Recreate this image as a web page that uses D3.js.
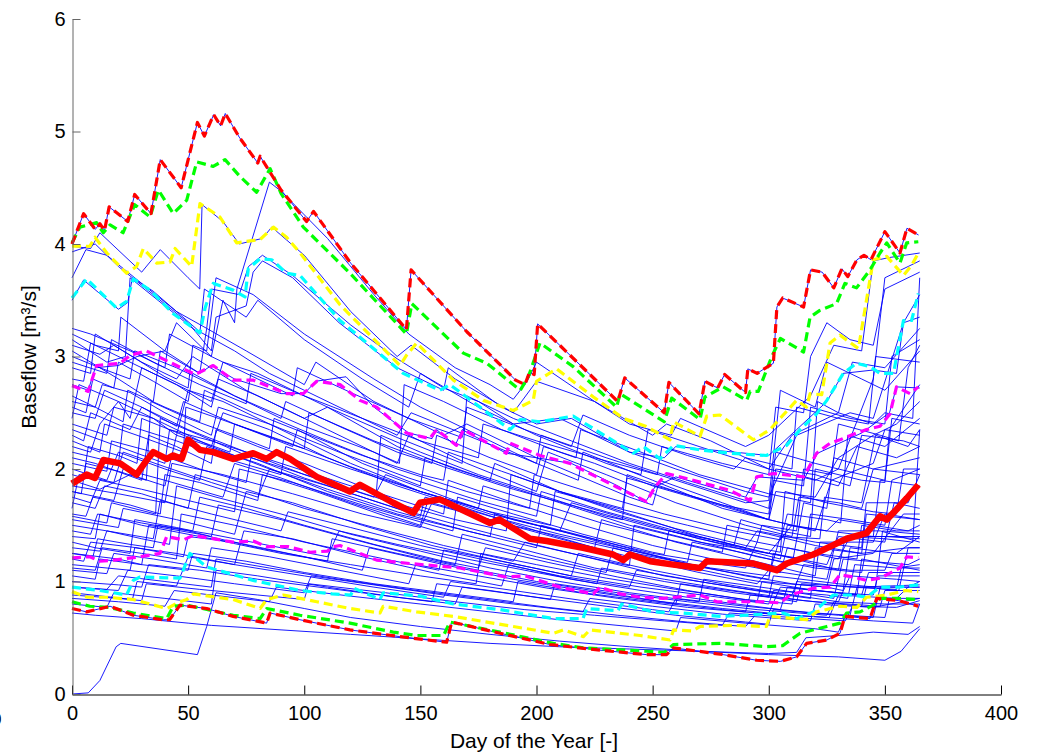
<!DOCTYPE html>
<html>
<head>
<meta charset="utf-8">
<script src="https://cdn.jsdelivr.net/npm/d3@7"></script>
<style>
  body { margin: 0; background: #fff; }
  text { font-family: Arial, "Liberation Sans", sans-serif; }
</style>
</head>
<body>
<svg width="1040" height="755"></svg>
<script>
// axis ticks
var dayTicks = [0, 50, 100, 150, 200, 250, 300, 350, 400];
var flowTicks = [0, 1, 2, 3, 4, 5, 6];

// statistics lines, [day, baseflow]
var maxRun = [[0,4.0],[5,4.27],[10,4.13],[12,4.18],[14,4.12],[16,4.33],[24,4.2],[27,4.44],[34,4.27],[38,4.75],[47,4.5],[54,5.08],[57,4.96],[61,5.15],[64,5.05],[66,5.16],[72,4.95],[80,4.72],[81,4.78],[90,4.48],[101,4.2],[104,4.29],[120,3.83],[144,3.24],[146,3.77],[170,3.22],[191,2.79],[195,2.75],[197,2.86],[199,2.84],[200.5,3.29],[235,2.6],[238,2.81],[255,2.5],[257,2.77],[270,2.49],[272.5,2.78],[278,2.72],[281,2.84],[290,2.68],[291,2.89],[295,2.85],[298,2.89],[302,2.94],[303.5,3.44],[306,3.52],[315,3.44],[318,3.77],[323,3.75],[328,3.61],[331.5,3.78],[334,3.71],[338,3.86],[341,3.9],[344,3.86],[350,4.11],[356.5,3.92],[359.5,4.14],[364.5,4.08]];
var p975Run = [[0,4.01],[3.4,4.15],[10.6,4.19],[13.5,4.1],[16.4,4.17],[22,4.1],[27,4.35],[33.6,4.24],[37.2,4.48],[43.6,4.27],[49.4,4.39],[53.7,4.73],[60.8,4.69],[65.9,4.75],[72.3,4.6],[79.5,4.46],[85.3,4.67],[90,4.45],[99.6,4.15],[119.7,3.74],[144,3.2],[146.3,3.47],[168.5,3.03],[178.6,2.94],[193,2.7],[196.5,2.82],[201.5,3.12],[215.8,2.91],[234.5,2.55],[236,2.67],[255,2.42],[258.2,2.63],[270.4,2.44],[272.5,2.64],[280.4,2.73],[290.5,2.61],[292,2.69],[295.5,2.69],[301.3,3.0],[305,3.16],[315,3.04],[317.8,3.35],[322,3.41],[329.2,3.47],[332.8,3.65],[337.8,3.61],[343.6,3.77],[347.9,3.92],[350.8,4.01],[356.5,3.83],[359.4,4.01],[364.4,4.02]];
var p95Run = [[0,3.98],[7.7,3.98],[9.9,4.06],[15,3.92],[23.5,3.74],[27.8,3.8],[30.7,3.96],[36.5,3.83],[42.2,3.84],[44.4,3.96],[51.5,3.8],[55.1,4.36],[63.7,4.24],[70.9,4.01],[81,4.04],[86.7,4.15],[92.4,4.06],[98.2,3.92],[115.4,3.46],[141.2,2.92],[144,3.01],[148.4,3.12],[164.2,2.79],[177.1,2.61],[190,2.52],[198.6,2.61],[200,2.78],[208.7,2.89],[224.5,2.64],[237.4,2.45],[247,2.38],[257.5,2.26],[259,2.42],[270.4,2.29],[273.3,2.47],[279,2.48],[293.4,2.26],[300.5,2.35],[312,2.61],[316.3,2.55],[317.8,2.67],[322.8,2.66],[326.4,3.12],[330.7,3.19],[338.6,3.07],[345,3.86],[350.8,3.89],[358,3.72],[361.5,3.81],[364.4,3.92]];
var p90Run = [[0,3.52],[6.3,3.69],[19.2,3.43],[23.5,3.49],[26.4,3.69],[33.6,3.59],[43.6,3.38],[55.1,3.21],[57.3,3.43],[60.8,3.65],[69.4,3.59],[74.5,3.53],[75.9,3.78],[81,3.87],[86,3.86],[92.4,3.74],[98.2,3.72],[115.4,3.32],[142.6,2.85],[158.4,2.7],[162.7,2.75],[188.6,2.35],[193,2.44],[201.5,2.42],[215.8,2.47],[241.7,2.14],[246,2.2],[253.2,2.09],[259,2.21],[270.4,2.17],[283.3,2.14],[299,2.12],[307.7,2.21],[313.5,2.35],[320.6,2.49],[325,2.61],[332.1,2.85],[337.8,2.94],[343.6,2.91],[347.9,2.85],[353.7,2.85],[358,3.32],[361.5,3.32],[364.4,3.56]];
var p75Run = [[0,2.74],[7,2.69],[10.6,2.92],[20.7,2.94],[25,3.01],[32,3.05],[40,2.97],[53,2.84],[60.8,2.92],[69.4,2.79],[78,2.79],[92.4,2.67],[99.6,2.67],[105.4,2.78],[115.4,2.75],[124,2.61],[131.2,2.55],[144,2.32],[154,2.27],[157,2.35],[165.6,2.21],[168.5,2.35],[187,2.14],[188.6,2.23],[201.5,2.12],[214.4,2.05],[234.5,1.84],[247.4,1.71],[251,1.84],[256,1.96],[267.5,1.9],[283.3,1.81],[292,1.72],[294.8,1.93],[302,1.96],[315,1.93],[320.6,2.14],[326.4,2.23],[330.7,2.26],[337.8,2.32],[342.1,2.35],[347.9,2.38],[352.2,2.49],[355,2.73],[360.8,2.67],[364.4,2.73]];
var medianRun = [[0,1.87],[6.3,1.95],[9.9,1.92],[13.5,2.08],[20.7,2.05],[27.8,1.95],[32.2,2.08],[35,2.15],[40.8,2.09],[43.6,2.12],[47.2,2.09],[50,2.26],[55.1,2.17],[60.8,2.15],[69.4,2.09],[78,2.14],[83.8,2.09],[88.1,2.15],[93.9,2.09],[105.4,1.93],[115.4,1.84],[119.7,1.8],[124,1.86],[138.3,1.7],[147,1.61],[149.8,1.7],[158.4,1.73],[180,1.52],[184,1.55],[197.2,1.38],[204.4,1.36],[220,1.3],[233,1.24],[237.4,1.19],[240.2,1.24],[248.9,1.18],[258.9,1.15],[270.4,1.12],[273.3,1.18],[293.4,1.16],[303.4,1.1],[307.7,1.16],[319.2,1.24],[326.4,1.31],[333.5,1.38],[342.1,1.43],[347.9,1.58],[350.8,1.55],[355,1.64],[359.4,1.74],[364.4,1.86]];
var p25Run = [[0,1.21],[7.7,1.22],[12,1.18],[18,1.19],[29.3,1.22],[37.9,1.25],[40.8,1.4],[48,1.37],[52.2,1.41],[69.4,1.35],[78,1.36],[83.8,1.31],[93,1.31],[102.5,1.26],[110,1.27],[112.5,1.31],[115.4,1.32],[131.2,1.19],[145.5,1.16],[167,1.12],[187,1.04],[195,1.05],[210,0.95],[224.5,0.89],[227.3,0.95],[236,0.89],[244.6,0.86],[254.6,0.85],[270.4,0.88],[277.6,0.82],[296.4,0.82],[305,0.81],[309.2,0.88],[319.2,0.94],[326.4,0.95],[330.7,1.06],[336.4,1.04],[342.1,1.01],[347.9,1.03],[356.5,1.12],[359.4,1.22],[364.4,1.21]];
var p10Run = [[0,0.95],[12,0.92],[20.7,0.89],[23.5,0.88],[26.4,1.01],[29.3,1.04],[46.5,1.03],[50.8,1.25],[58,1.13],[78,1.01],[98.2,0.92],[112,0.89],[120,0.88],[121.5,0.94],[132.6,0.84],[134,0.9],[150,0.87],[164.2,0.8],[184.3,0.75],[207.3,0.67],[220,0.67],[221.6,0.76],[235,0.74],[236.7,0.8],[244.6,0.76],[250.5,0.73],[262.3,0.72],[279.5,0.69],[290,0.7],[306.3,0.72],[312,0.67],[319.2,0.73],[327.8,0.88],[336.4,0.88],[342.1,0.86],[347.9,0.95],[356,0.95],[364.4,0.97]];
var p5Run = [[0,0.91],[6.7,0.86],[15,0.86],[26.4,0.84],[40.8,0.76],[46.5,0.82],[49.4,0.84],[52.2,0.89],[69.4,0.84],[81,0.76],[83.8,0.84],[91,0.88],[105.4,0.82],[119.7,0.76],[132.6,0.72],[134,0.78],[148.4,0.73],[164.2,0.69],[190,0.6],[207.3,0.54],[211.6,0.57],[220.2,0.51],[223,0.57],[244.6,0.52],[257.5,0.48],[259,0.57],[267,0.56],[270.4,0.6],[284.7,0.61],[299,0.6],[300.5,0.69],[316.3,0.66],[320.6,0.73],[330.7,0.78],[338,0.77],[342.1,0.86],[350.8,0.88],[359,0.92],[364.4,0.91]];
var p25lowRun = [[0,0.82],[7.7,0.78],[16,0.77],[26.4,0.72],[40.8,0.67],[43.6,0.78],[49.4,0.79],[69.4,0.7],[81,0.67],[83.8,0.76],[98.2,0.7],[119.7,0.63],[138.3,0.55],[148.4,0.52],[160,0.52],[162.7,0.64],[184.3,0.55],[207.3,0.45],[220.2,0.41],[247.4,0.38],[255,0.37],[259,0.44],[280.4,0.45],[299,0.42],[306,0.43],[313.5,0.54],[325,0.6],[330.7,0.63],[333.5,0.72],[339.3,0.73],[345,0.79],[347.9,0.85],[356,0.85],[364.4,0.84]];
var minRun = [[0,0.76],[6.3,0.73],[16.4,0.78],[26.4,0.7],[39.3,0.66],[42,0.66],[46.5,0.79],[58,0.76],[69.4,0.69],[83.8,0.63],[85.3,0.72],[98.2,0.66],[119.7,0.57],[141.2,0.51],[161.3,0.46],[163.5,0.64],[184.3,0.54],[205.8,0.44],[227.3,0.39],[247.4,0.35],[256,0.35],[259,0.41],[280.4,0.35],[294.8,0.3],[305,0.29],[312,0.33],[316.3,0.45],[325,0.48],[330.7,0.54],[332.8,0.69],[343.6,0.67],[346.5,0.85],[356,0.83],[364.4,0.78]];

// single years, flat lists: day, baseflow, day, baseflow, ...
var yearRuns = [
  [0,3.98, 8,3.96, 12,4.1, 30,3.75, 38,3.95, 50,3.7, 55,3.6, 56,4.35, 65,4.2, 72,4.0, 82,4.05, 86,4.15, 100,3.9, 120,3.4, 140,3.0, 146,3.1, 165,2.8, 190,2.5, 200,2.78, 225,2.6, 240,2.4, 258,2.3, 262,2.45, 290,2.2, 300,2.3, 318,2.65, 328,3.1, 340,3.05, 345,3.85, 352,3.88, 365,3.92],
  [0,3.93, 10,4.0, 20,3.8, 35,3.55, 50,3.3, 60,3.05, 62,3.35, 75,3.45, 78,3.75, 82,3.85, 95,3.7, 115,3.3, 140,2.9, 160,2.7, 162,2.9, 185,2.55, 200,2.4, 215,2.45, 240,2.15, 260,2.0, 290,1.8, 300,1.75, 312,2.3, 335,2.5, 345,2.45, 358,3.3, 365,3.55],
  [0,3.7, 6,3.95, 15,3.9, 30,3.65, 45,3.4, 58,3.25, 60,3.6, 72,3.55, 76,3.8, 82,3.9, 95,3.72, 120,3.28, 140,2.98, 160,2.72, 175,2.6, 190,2.4, 210,2.45, 240,2.15, 255,2.1, 260,2.2, 300,2.12, 312,2.35, 325,2.6, 332,2.85, 345,2.88, 355,2.85, 358,3.3, 365,3.35],
  [0,3.5, 5,3.68, 20,3.42, 24,3.48, 26,3.7, 35,3.58, 55,3.22, 70,3.05, 85,2.85, 100,2.7, 120,2.5, 140,2.3, 146,2.5, 170,2.3, 200,2.05, 202,2.3, 230,2.1, 260,1.9, 290,1.7, 300,1.72, 305,2.7, 320,2.55, 325,2.95, 340,2.8, 350,2.7, 365,3.05],
  [0,3.2, 10,3.1, 20,3.05, 21,3.35, 40,3.05, 45,3.3, 60,3.0, 65,3.5, 70,3.3, 71,3.6, 85,4.55, 90,4.47, 110,4.05, 130,3.55, 145,3.2, 165,2.9, 180,2.75, 190,2.62, 196,2.78, 200,2.95, 225,2.6, 250,2.3, 256,2.4, 275,2.25, 300,2.0, 320,1.9, 330,2.0, 345,2.8, 350,3.7, 365,3.85],
  [0,3.15, 15,2.95, 23,3.0, 25,3.7, 40,3.45, 55,3.2, 57,3.6, 75,3.35, 80,3.5, 100,3.15, 125,2.8, 145,2.55, 150,2.85, 175,2.55, 200,2.3, 230,2.05, 245,1.95, 248,2.35, 270,2.2, 300,2.0, 310,2.3, 330,2.5, 336,2.95, 350,2.9, 365,3.25],
  [0,3.1, 12,3.02, 18,3.1, 40,2.82, 50,2.72, 52,3.1, 58,3.05, 62,3.7, 78,3.55, 100,3.2, 130,2.8, 150,2.55, 180,2.25, 200,2.05, 218,1.9, 220,2.15, 250,1.9, 280,1.65, 300,1.55, 303,1.8, 320,1.75, 330,2.1, 345,2.3, 355,2.4, 365,2.6],
  [0,3.05, 20,2.8, 35,2.6, 38,3.05, 55,2.85, 58,3.25, 75,3.05, 100,2.75, 105,2.95, 130,2.6, 160,2.3, 170,2.4, 190,2.2, 200,2.1, 240,1.75, 250,1.68, 253,1.9, 280,1.7, 300,1.55, 320,1.45, 327,1.9, 345,2.05, 350,2.35, 365,2.3],
  [0,2.9, 8,2.85, 10,3.2, 30,2.95, 45,2.8, 52,3.0, 75,2.7, 100,2.45, 110,2.55, 140,2.2, 165,2.0, 180,1.9, 182,2.05, 210,1.8, 240,1.6, 270,1.4, 300,1.25, 315,1.2, 318,1.6, 335,1.55, 350,1.5, 353,1.9, 365,2.0],
  [0,2.75, 7,2.7, 10,2.9, 20,2.92, 28,3.0, 40,3.05, 55,2.85, 60,2.92, 70,2.8, 90,2.67, 100,2.67, 105,2.78, 118,2.82, 130,2.55, 145,2.32, 155,2.27, 157,2.35, 165,2.21, 168,2.35, 187,2.14, 200,2.1, 215,2.05, 235,1.85, 247,1.71, 251,1.84, 260,1.93, 290,1.75, 295,1.93, 315,1.9, 321,2.14, 340,2.32, 352,2.5, 355,2.73, 365,2.72],
  [0,2.5, 10,2.45, 14,2.7, 30,2.55, 45,2.38, 48,2.6, 70,2.4, 95,2.2, 97,2.35, 125,2.05, 150,1.85, 152,2.1, 180,1.9, 210,1.7, 240,1.5, 270,1.35, 300,1.25, 325,1.15, 330,1.4, 350,1.35, 354,1.7, 365,1.65],
  [0,2.45, 3,2.75, 20,2.6, 25,2.45, 30,2.9, 45,2.75, 60,2.55, 63,2.8, 80,2.65, 110,2.35, 140,2.05, 145,2.3, 170,2.05, 200,1.8, 205,2.15, 230,1.95, 260,1.7, 290,1.5, 310,1.4, 313,1.75, 330,1.7, 340,1.65, 345,2.0, 365,2.1],
  [0,2.4, 15,2.3, 18,2.55, 35,2.45, 45,2.3, 50,2.7, 65,2.6, 90,2.35, 120,2.05, 150,1.8, 180,1.6, 210,1.45, 215,1.7, 240,1.55, 270,1.38, 300,1.25, 310,1.5, 325,1.45, 330,1.55, 345,1.5, 360,1.45, 365,1.5],
  [0,2.3, 5,2.25, 8,2.5, 25,2.35, 30,2.55, 50,2.35, 75,2.15, 100,1.95, 130,1.75, 135,1.95, 165,1.72, 190,1.55, 220,1.4, 250,1.25, 280,1.15, 290,1.12, 295,1.35, 320,1.25, 338,1.2, 340,1.5, 355,1.45, 365,1.45],
  [0,2.2, 8,2.15, 12,2.4, 20,2.6, 40,2.4, 60,2.2, 65,2.5, 85,2.35, 110,2.1, 140,1.85, 170,1.65, 200,1.45, 225,1.3, 228,1.55, 260,1.35, 290,1.2, 320,1.05, 322,1.35, 345,1.35, 350,1.6, 365,1.55],
  [0,2.1, 10,2.05, 30,1.9, 33,2.3, 45,2.2, 60,2.05, 62,2.35, 80,2.2, 100,2.05, 130,1.8, 160,1.6, 162,1.9, 190,1.7, 220,1.5, 250,1.32, 280,1.18, 305,1.08, 308,1.3, 330,1.2, 335,1.4, 350,1.4, 365,1.38],
  [0,2.0, 15,1.9, 20,2.15, 40,2.0, 55,1.9, 58,2.2, 80,2.05, 110,1.8, 140,1.6, 170,1.45, 200,1.3, 202,1.5, 230,1.35, 260,1.18, 290,1.05, 310,0.98, 325,0.95, 328,1.2, 345,1.25, 358,1.6, 365,1.6],
  [0,1.9, 12,1.82, 25,1.95, 40,1.85, 45,2.3, 60,2.2, 85,2.0, 110,1.82, 140,1.62, 170,1.45, 180,1.4, 182,1.6, 210,1.45, 240,1.28, 270,1.13, 300,1.02, 302,1.25, 330,1.1, 340,1.08, 343,1.4, 365,1.4],
  [0,1.8, 18,1.72, 22,2.0, 40,1.9, 65,1.75, 70,2.05, 90,1.92, 120,1.7, 150,1.5, 153,1.7, 180,1.55, 210,1.38, 240,1.22, 270,1.08, 295,0.98, 300,1.1, 325,1.02, 330,1.45, 348,1.45, 365,1.35],
  [0,1.7, 10,1.65, 14,1.85, 30,1.78, 50,1.65, 53,1.95, 75,1.82, 100,1.65, 130,1.48, 160,1.32, 190,1.18, 195,1.35, 225,1.2, 255,1.05, 285,0.95, 310,0.88, 315,1.15, 335,1.1, 350,1.1, 353,1.25, 365,1.25],
  [0,1.6, 6,1.58, 9,1.75, 25,1.68, 38,1.6, 40,1.95, 55,1.88, 80,1.72, 82,1.95, 105,1.8, 135,1.58, 165,1.4, 200,1.22, 230,1.08, 233,1.3, 260,1.15, 290,1.02, 320,0.92, 338,0.88, 340,1.2, 365,1.1],
  [0,1.55, 20,1.48, 22,1.65, 45,1.55, 70,1.42, 75,1.8, 95,1.7, 125,1.5, 155,1.32, 185,1.18, 215,1.05, 218,1.25, 250,1.1, 280,0.98, 310,0.88, 330,0.82, 335,1.05, 355,1.02, 365,1.0],
  [0,1.5, 15,1.45, 35,1.38, 38,1.72, 60,1.6, 90,1.45, 93,1.62, 120,1.48, 150,1.32, 180,1.18, 210,1.05, 240,0.95, 243,1.1, 270,1.0, 300,0.9, 318,0.85, 320,1.3, 340,1.25, 360,1.3, 365,1.3],
  [0,1.45, 8,1.42, 11,1.6, 30,1.52, 50,1.45, 60,1.4, 63,1.68, 90,1.55, 120,1.38, 150,1.22, 165,1.15, 168,1.42, 195,1.28, 225,1.12, 255,1.0, 285,0.9, 300,0.86, 302,1.05, 330,0.98, 346,0.95, 349,1.45, 365,1.42],
  [0,1.3, 12,1.27, 15,1.45, 30,1.38, 42,1.33, 45,1.85, 62,1.75, 90,1.6, 120,1.42, 150,1.27, 180,1.12, 210,1.0, 240,0.9, 270,0.82, 272,1.02, 300,0.94, 328,0.85, 332,1.2, 360,1.15, 365,1.2],
  [0,1.25, 20,1.2, 30,1.15, 33,1.5, 55,1.42, 80,1.3, 110,1.18, 112,1.38, 140,1.25, 170,1.12, 200,1.0, 230,0.9, 260,0.8, 262,0.98, 290,0.9, 312,0.82, 314,0.98, 340,0.95, 356,0.92, 360,1.3, 365,1.3],
  [0,1.2, 5,1.18, 8,1.35, 28,1.3, 48,1.22, 50,1.4, 70,1.35, 100,1.22, 125,1.1, 128,1.3, 160,1.15, 190,1.02, 220,0.92, 250,0.83, 280,0.76, 300,0.72, 305,0.95, 330,0.9, 345,0.88, 347,1.05, 365,1.05],
  [0,1.15, 25,1.1, 27,1.3, 45,1.25, 70,1.15, 74,1.45, 95,1.38, 125,1.22, 155,1.08, 185,0.96, 188,1.15, 215,1.02, 245,0.92, 275,0.83, 305,0.75, 308,0.95, 330,0.9, 340,0.88, 343,1.08, 365,1.08],
  [0,1.1, 15,1.07, 18,1.25, 35,1.2, 58,1.12, 60,1.3, 85,1.22, 115,1.1, 145,0.98, 148,1.15, 175,1.05, 205,0.94, 235,0.85, 265,0.77, 295,0.72, 326,0.68, 330,0.88, 355,0.85, 360,0.95, 365,0.95],
  [0,1.05, 10,1.02, 12,1.2, 30,1.15, 50,1.1, 52,1.25, 75,1.18, 100,1.08, 130,0.98, 160,0.9, 190,0.82, 192,1.0, 220,0.9, 250,0.82, 280,0.75, 290,0.73, 292,0.88, 320,0.82, 348,0.78, 350,0.92, 365,0.92],
  [0,0.95, 20,0.92, 24,1.1, 45,1.05, 70,0.98, 100,0.9, 103,1.05, 130,0.97, 160,0.88, 190,0.8, 220,0.73, 223,0.85, 250,0.78, 280,0.71, 305,0.67, 318,0.65, 320,0.8, 345,0.77, 365,0.85],
  [0,0.9, 26,0.84, 28,1.0, 45,0.96, 50,1.22, 70,1.15, 100,1.05, 130,0.95, 160,0.86, 163,1.0, 190,0.92, 220,0.83, 250,0.75, 257,0.73, 260,0.85, 290,0.78, 320,0.72, 335,0.7, 338,0.95, 365,0.97],
  [0,0.85, 20,0.82, 40,0.78, 44,0.92, 60,0.88, 85,0.82, 88,0.95, 120,0.87, 150,0.8, 180,0.73, 210,0.66, 240,0.6, 260,0.56, 262,0.68, 290,0.63, 320,0.58, 330,0.55, 333,0.7, 350,0.68, 352,0.85, 365,0.85],
  [0,0.8, 15,0.77, 18,0.9, 40,0.85, 60,0.8, 62,1.1, 80,1.05, 110,0.95, 140,0.86, 165,0.8, 168,0.95, 200,0.86, 230,0.78, 260,0.7, 290,0.64, 300,0.62, 302,0.75, 330,0.7, 345,0.68, 348,0.95, 365,0.95],
  [0,0.0, 7,0.01, 12,0.12, 19,0.42, 21,0.45, 54,0.35, 58,0.6, 62,0.9, 80,0.84, 100,0.76, 120,0.68, 150,0.6, 180,0.53, 210,0.47, 240,0.42, 270,0.38, 300,0.35, 330,0.33, 350,0.3, 357,0.38, 365,0.58],
  [0,0.72, 10,0.7, 30,0.67, 50,0.63, 60,0.61, 90,0.57, 120,0.53, 150,0.49, 180,0.45, 210,0.42, 240,0.4, 270,0.38, 300,0.36, 312,0.37, 316,0.5, 330,0.52, 345,0.55, 360,0.53, 365,0.6],
  [0,1.35, 10,1.3, 25,1.25, 27,1.55, 45,1.48, 52,1.45, 55,1.75, 75,1.65, 100,1.5, 130,1.33, 160,1.18, 175,1.12, 178,1.3, 205,1.17, 235,1.04, 265,0.92, 295,0.82, 297,1.0, 325,0.95, 332,0.92, 335,1.3, 355,1.25, 365,1.4],
  [0,2.6, 10,2.55, 13,2.75, 25,2.68, 40,2.5, 60,2.3, 63,2.55, 85,2.4, 115,2.15, 145,1.92, 175,1.72, 200,1.58, 202,1.8, 230,1.62, 260,1.45, 290,1.3, 295,1.45, 320,1.35, 340,1.3, 342,1.7, 360,1.7, 365,1.95],
  [0,1.65, 3,1.95, 18,1.88, 22,2.15, 40,2.02, 60,1.88, 80,1.75, 85,2.0, 110,1.85, 140,1.65, 170,1.48, 200,1.32, 230,1.18, 240,1.14, 242,1.5, 265,1.38, 295,1.22, 320,1.12, 330,1.1, 333,1.4, 350,1.38, 362,1.35, 365,2.35],
  [0,2.35, 20,2.2, 40,2.05, 42,2.35, 60,2.25, 90,2.05, 120,1.85, 131,1.78, 133,2.3, 150,2.15, 175,1.95, 200,1.78, 230,1.58, 237,1.55, 239,1.95, 260,1.8, 285,1.65, 300,1.55, 303,2.0, 320,1.95, 335,1.85, 340,2.3, 358,2.25, 365,2.2],
  [0,3.0, 12,2.9, 25,2.8, 27,3.05, 45,2.9, 70,2.65, 100,2.38, 130,2.15, 141,2.05, 143,2.75, 160,2.6, 185,2.35, 210,2.15, 217,2.1, 219,2.35, 245,2.15, 270,1.95, 300,1.78, 318,1.7, 321,2.6, 330,2.5, 345,2.4, 350,2.5, 362,2.45, 365,3.7],
  [0,1.0, 20,0.97, 30,0.95, 33,1.15, 55,1.1, 80,1.02, 110,0.94, 140,0.86, 155,0.82, 157,0.98, 180,0.92, 206,0.84, 208,0.98, 235,0.9, 265,0.82, 295,0.75, 325,0.7, 328,0.82, 350,0.8, 365,0.8],
  [0,1.75, 8,1.7, 12,1.9, 30,1.82, 50,1.72, 70,1.62, 72,2.0, 95,1.88, 125,1.68, 155,1.5, 164,1.45, 166,1.75, 190,1.6, 220,1.42, 250,1.26, 255,1.24, 257,1.45, 280,1.33, 305,1.2, 308,1.5, 325,1.45, 345,1.4, 348,1.9, 365,1.85],
  [0,2.05, 15,1.98, 17,2.25, 35,2.15, 55,2.0, 75,1.88, 77,2.1, 105,1.92, 135,1.72, 165,1.55, 187,1.45, 189,1.95, 210,1.8, 235,1.62, 260,1.47, 290,1.32, 305,1.26, 307,1.8, 325,1.7, 345,1.62, 355,1.6, 358,2.0, 365,2.0],
  [0,1.4, 10,1.38, 12,1.6, 30,1.5, 60,1.38, 90,1.25, 120,1.15, 150,1.05, 174,0.98, 176,1.25, 200,1.15, 230,1.03, 260,0.93, 290,0.84, 310,0.8, 312,1.0, 335,0.95, 355,0.93, 357,1.12, 365,1.12],
  [0,2.8, 5,2.78, 8,3.12, 25,2.95, 45,2.75, 60,2.6, 65,2.95, 80,2.85, 110,2.55, 140,2.28, 168,2.05, 170,2.65, 190,2.45, 215,2.25, 240,2.05, 265,1.88, 290,1.72, 300,1.65, 303,2.15, 320,2.05, 350,1.9, 352,2.35, 365,2.75],
  [0,0.95, 15,0.93, 20,1.05, 40,1.0, 60,0.95, 62,1.2, 85,1.12, 115,1.02, 145,0.93, 175,0.85, 205,0.77, 235,0.7, 265,0.64, 290,0.6, 295,0.72, 325,0.68, 345,0.65, 362,0.63, 365,0.8],
  [0,2.15, 20,2.05, 22,2.4, 45,2.25, 65,2.1, 90,1.95, 92,2.2, 120,2.0, 150,1.8, 180,1.62, 206,1.5, 208,1.8, 235,1.65, 265,1.5, 295,1.35, 297,1.5, 312,1.45, 315,2.0, 327,1.95, 330,2.4, 348,2.3, 356,2.25, 360,2.9, 365,3.1],
  [0,1.85, 20,1.78, 40,1.7, 43,2.05, 65,1.95, 95,1.78, 125,1.6, 150,1.48, 155,1.7, 185,1.52, 215,1.38, 245,1.24, 275,1.12, 300,1.05, 305,1.4, 322,1.38, 324,1.75, 340,1.7, 346,2.3, 360,2.2, 365,2.35],
  [0,2.55, 6,2.5, 9,2.8, 18,2.72, 20,2.95, 35,2.78, 50,2.6, 52,2.85, 70,2.65, 90,2.45, 92,2.6, 115,2.38, 140,2.15, 155,2.05, 157,2.3, 180,2.1, 200,1.95, 203,2.2, 225,2.05, 250,1.85, 275,1.7, 300,1.55, 310,1.5, 312,1.95, 330,1.85, 338,2.2, 355,2.1, 365,2.2],
  [0,1.95, 5,1.92, 7,2.2, 20,2.12, 28,2.05, 30,2.45, 48,2.3, 68,2.15, 70,2.4, 95,2.22, 120,2.02, 150,1.8, 175,1.65, 177,1.85, 200,1.7, 228,1.52, 255,1.38, 280,1.26, 282,1.5, 300,1.42, 320,1.32, 340,1.25, 342,1.6, 365,1.55],
  [0,1.58, 15,1.52, 17,1.7, 36,1.6, 38,2.45, 55,2.3, 75,2.12, 100,1.92, 125,1.75, 150,1.58, 152,1.75, 180,1.58, 210,1.42, 240,1.28, 265,1.17, 267,1.35, 290,1.25, 310,1.15, 315,1.7, 325,1.65, 328,2.1, 345,2.0, 365,1.95],
  [0,1.25, 9,1.22, 11,1.38, 25,1.33, 35,1.3, 37,1.5, 60,1.42, 85,1.32, 110,1.22, 115,1.45, 140,1.33, 170,1.2, 200,1.08, 226,0.98, 228,1.12, 255,1.02, 285,0.92, 315,0.83, 340,0.78, 342,0.95, 360,0.95, 365,1.0],
  [0,2.25, 12,2.15, 14,2.4, 28,2.3, 48,2.15, 49,2.55, 63,2.45, 90,2.25, 100,2.18, 102,2.5, 130,2.25, 160,2.02, 190,1.82, 220,1.65, 250,1.48, 280,1.35, 285,1.32, 288,1.55, 305,1.45, 318,1.4, 320,2.0, 340,1.9, 350,1.88, 353,2.45, 365,2.4],
  [0,3.25, 8,3.2, 25,3.05, 40,2.9, 42,3.2, 60,3.0, 80,2.8, 95,2.65, 97,2.9, 120,2.68, 145,2.45, 168,2.28, 170,2.55, 195,2.35, 215,2.2, 220,2.48, 240,2.3, 265,2.12, 285,2.0, 290,2.1, 310,2.0, 312,2.55, 330,2.45, 343,2.4, 346,3.0, 365,2.95],
  [0,1.12, 10,1.1, 13,1.3, 30,1.25, 45,1.2, 47,1.6, 70,1.5, 100,1.35, 130,1.22, 158,1.1, 160,1.28, 185,1.18, 215,1.05, 245,0.95, 275,0.87, 300,0.8, 302,0.92, 325,0.88, 334,0.85, 337,1.15, 355,1.12, 365,1.15],
  [0,0.88, 20,0.85, 30,0.83, 32,0.98, 55,0.93, 80,0.88, 100,0.84, 102,0.98, 135,0.9, 165,0.82, 195,0.75, 225,0.7, 255,0.65, 280,0.61, 283,0.72, 310,0.68, 333,0.65, 336,0.78, 355,0.77, 365,0.83],
  [0,1.8, 4,1.78, 6,2.05, 20,1.98, 32,1.9, 34,2.6, 50,2.45, 70,2.3, 85,2.18, 87,2.45, 110,2.25, 140,2.0, 170,1.8, 197,1.65, 199,1.95, 225,1.78, 255,1.6, 285,1.45, 305,1.37, 308,1.6, 325,1.55, 331,1.52, 334,2.3, 350,2.2, 365,2.45],
  [0,2.65, 10,2.55, 22,2.42, 24,2.7, 40,2.55, 55,2.42, 57,2.7, 78,2.5, 100,2.32, 125,2.12, 150,1.95, 160,1.9, 162,2.15, 185,1.98, 210,1.8, 237,1.65, 239,1.92, 260,1.8, 280,1.68, 300,1.6, 302,1.9, 315,1.85, 318,2.55, 335,2.45, 350,2.4, 353,3.0, 365,3.15],
  [0,2.95, 15,2.85, 17,3.15, 35,2.95, 55,2.75, 75,2.58, 77,2.85, 100,2.65, 125,2.45, 150,2.25, 175,2.1, 177,2.4, 200,2.25, 225,2.1, 252,1.95, 254,2.2, 280,2.05, 300,1.95, 303,2.55, 315,2.5, 318,3.0, 325,3.3, 335,3.15, 345,3.1, 350,3.6, 365,3.75]
];

var svg = d3.select("svg");

var x = d3.scaleLinear().domain([0, 400]).range([72, 1001]);
var y = d3.scaleLinear().domain([0, 6]).range([694, 19]);

var line = d3.line()
    .x(function(d) { return x(d[0]); })
    .y(function(d) { return y(d[1]); });

// turn a flat day/value list into pairs
function toPairs(flat) {
    var out = [];
    for (var i = 0; i < flat.length; i += 2) out.push([flat[i], flat[i + 1]]);
    return out;
}

// thin blue year lines
var years = yearRuns.map(toPairs).concat([maxRun, minRun]);
svg.append("g")
    .selectAll("path")
    .data(years)
    .enter().append("path")
    .attr("d", line)
    .attr("fill", "none")
    .attr("stroke", "#0000ff")
    .attr("stroke-width", 0.9);

// percentile lines on top
var stats = [
    { data: p75Run, color: "#ff00ff", width: 3.2, dash: "9,5" },
    { data: p25Run, color: "#ff00ff", width: 3.2, dash: "9,5" },
    { data: p90Run, color: "#00ffff", width: 3.2, dash: "9,5" },
    { data: p10Run, color: "#00ffff", width: 3.2, dash: "9,5" },
    { data: p95Run, color: "#ffff00", width: 3.2, dash: "9,5" },
    { data: p5Run, color: "#ffff00", width: 3.2, dash: "9,5" },
    { data: p975Run, color: "#00ff00", width: 3.2, dash: "9,5" },
    { data: p25lowRun, color: "#00ff00", width: 3.2, dash: "9,5" },
    { data: maxRun, color: "#ff0000", width: 3.2, dash: "9,5" },
    { data: minRun, color: "#ff0000", width: 3.2, dash: "9,5" },
    { data: medianRun, color: "#ff0000", width: 6.5, dash: null }
];

svg.append("g")
    .selectAll("path")
    .data(stats)
    .enter().append("path")
    .attr("d", function(d) { return line(d.data); })
    .attr("fill", "none")
    .attr("stroke", function(d) { return d.color; })
    .attr("stroke-width", function(d) { return d.width; })
    .attr("stroke-dasharray", function(d) { return d.dash; })
    .attr("stroke-linejoin", "round");

// axes, ticks pointing inward
var xAxis = svg.append("g")
    .attr("transform", "translate(0,694.5)")
    .call(d3.axisBottom(x).tickValues(dayTicks).tickFormat(d3.format("d"))
        .tickSizeInner(-9).tickSizeOuter(0).tickPadding(11));
var yAxis = svg.append("g")
    .attr("transform", "translate(72.5,0)")
    .call(d3.axisLeft(y).tickValues(flowTicks).tickFormat(d3.format("d"))
        .tickSizeInner(-8).tickSizeOuter(0).tickPadding(7));

xAxis.selectAll("path, line").attr("stroke", "#000");
yAxis.selectAll("path, line").attr("stroke", "#666");
svg.selectAll(".tick text")
    .attr("font-size", 20)
    .attr("fill", "#000")
    .style("font-family", "Arial, 'Liberation Sans', sans-serif");

svg.append("text")
    .attr("x", 534)
    .attr("y", 748)
    .attr("text-anchor", "middle")
    .attr("font-size", 21)
    .text("Day of the Year [-]");

svg.append("text")
    .attr("transform", "translate(36,357) rotate(-90)")
    .attr("text-anchor", "middle")
    .attr("font-size", 21)
    .text("Baseflow [m\u00b3/s]");

// stray label cut by the left edge
svg.append("text")
    .attr("x", -8)
    .attr("y", 725)
    .attr("font-size", 17)
    .text("0");
</script>
</body>
</html>
